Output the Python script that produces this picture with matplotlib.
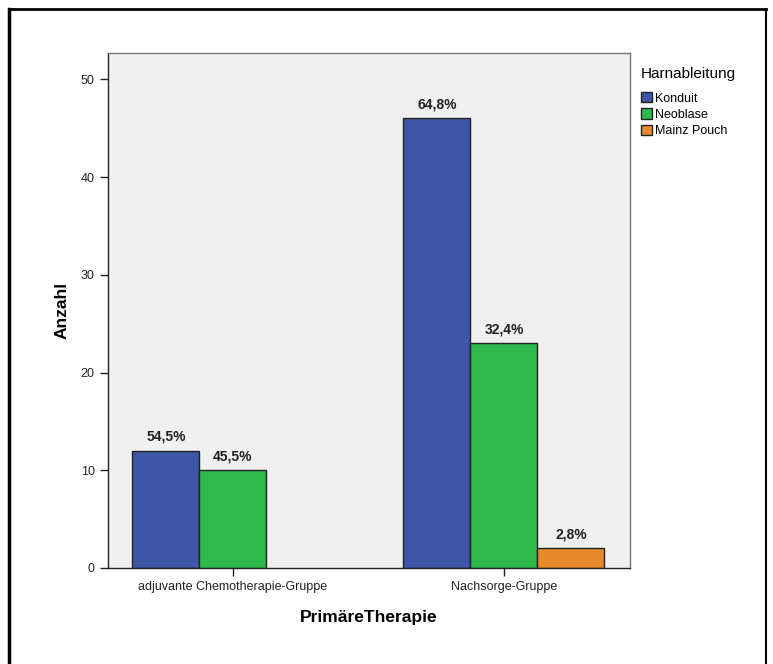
import matplotlib
matplotlib.use("Agg")
import matplotlib.pyplot as plt
from matplotlib.patches import Rectangle
from matplotlib.lines import Line2D
import numpy as np

plt.rcParams['font.family'] = ['Liberation Sans', 'DejaVu Sans']

categories = ["adjuvante Chemotherapie-Gruppe", "Nachsorge-Gruppe"]
series = ["Konduit", "Neoblase", "Mainz Pouch"]
counts = {
    "Konduit": [12, 46],
    "Neoblase": [10, 23],
    "Mainz Pouch": [0, 2],
}
percents = {
    "Konduit": ["54,5%", "64,8%"],
    "Neoblase": ["45,5%", "32,4%"],
    "Mainz Pouch": [None, "2,8%"],
}
colors = {"Konduit": "#3d56a8", "Neoblase": "#2fb84b", "Mainz Pouch": "#e8892b"}
yticks = [0, 10, 20, 30, 40, 50]

W, H = 773, 664
fig = plt.figure(figsize=(W / 100, H / 100), dpi=100)
ax = fig.add_axes([108 / W, 1 - 568 / H, (630 - 108) / W, (568 - 53) / H])
ax.set_facecolor("#f0f0f0")

x = np.arange(len(categories))
bw = 67 / 271
offsets = [-bw, 0, bw]
for s, off in zip(series, offsets):
    vals = counts[s]
    for xi, v, lab in zip(x, vals, percents[s]):
        if v <= 0:
            continue
        ax.bar(xi + off, v, width=bw, color=colors[s], edgecolor="#222222", linewidth=1.0)
        if lab:
            ax.annotate(lab, (xi + off, v), xytext=(0, 5), textcoords="offset points",
                        ha="center", va="bottom", fontsize=10, fontweight="bold", color="#222222")

ax.set_xlim(-0.461, 1.465)
ax.set_ylim(0, 52.7)
ax.set_yticks(yticks)
ax.set_xticks(x)
ax.set_xticklabels(categories)
ax.tick_params(axis="both", labelsize=9, colors="#222222", length=6, width=1)
for sp in ["left", "bottom"]:
    ax.spines[sp].set_color("#222222")
    ax.spines[sp].set_linewidth(1.0)
for sp in ["top", "right"]:
    ax.spines[sp].set_color("#777777")
    ax.spines[sp].set_linewidth(1.0)

ax.set_ylabel("Anzahl", fontsize=12.5, fontweight="bold", labelpad=8)
ax.set_xlabel("PrimäreTherapie", fontsize=12.5, fontweight="bold", labelpad=12)

handles = [Rectangle((0, 0), 1, 1, facecolor=colors[s], edgecolor="#222222", linewidth=1) for s in series]
leg = fig.legend(handles, series, loc="upper left", bbox_to_anchor=(636 / W, 1 - 62 / H),
                 frameon=False, title="Harnableitung", title_fontsize=11, fontsize=9,
                 handlelength=0.9, handleheight=0.9, handletextpad=0.2, labelspacing=0.3,
                 alignment="left", borderaxespad=0)
leg._legend_box.sep = 8

# outer frame
fig.add_artist(Line2D([9 / W, 9 / W], [0, 1 - 9 / H], transform=fig.transFigure, color="black", linewidth=2.5))
fig.add_artist(Line2D([9 / W, 766 / W], [1 - 9 / H, 1 - 9 / H], transform=fig.transFigure, color="black", linewidth=2.0))
fig.add_artist(Line2D([766 / W, 766 / W], [1 - 9 / H, 0], transform=fig.transFigure, color="black", linewidth=1.5))

fig.savefig("out.png", dpi=100)
